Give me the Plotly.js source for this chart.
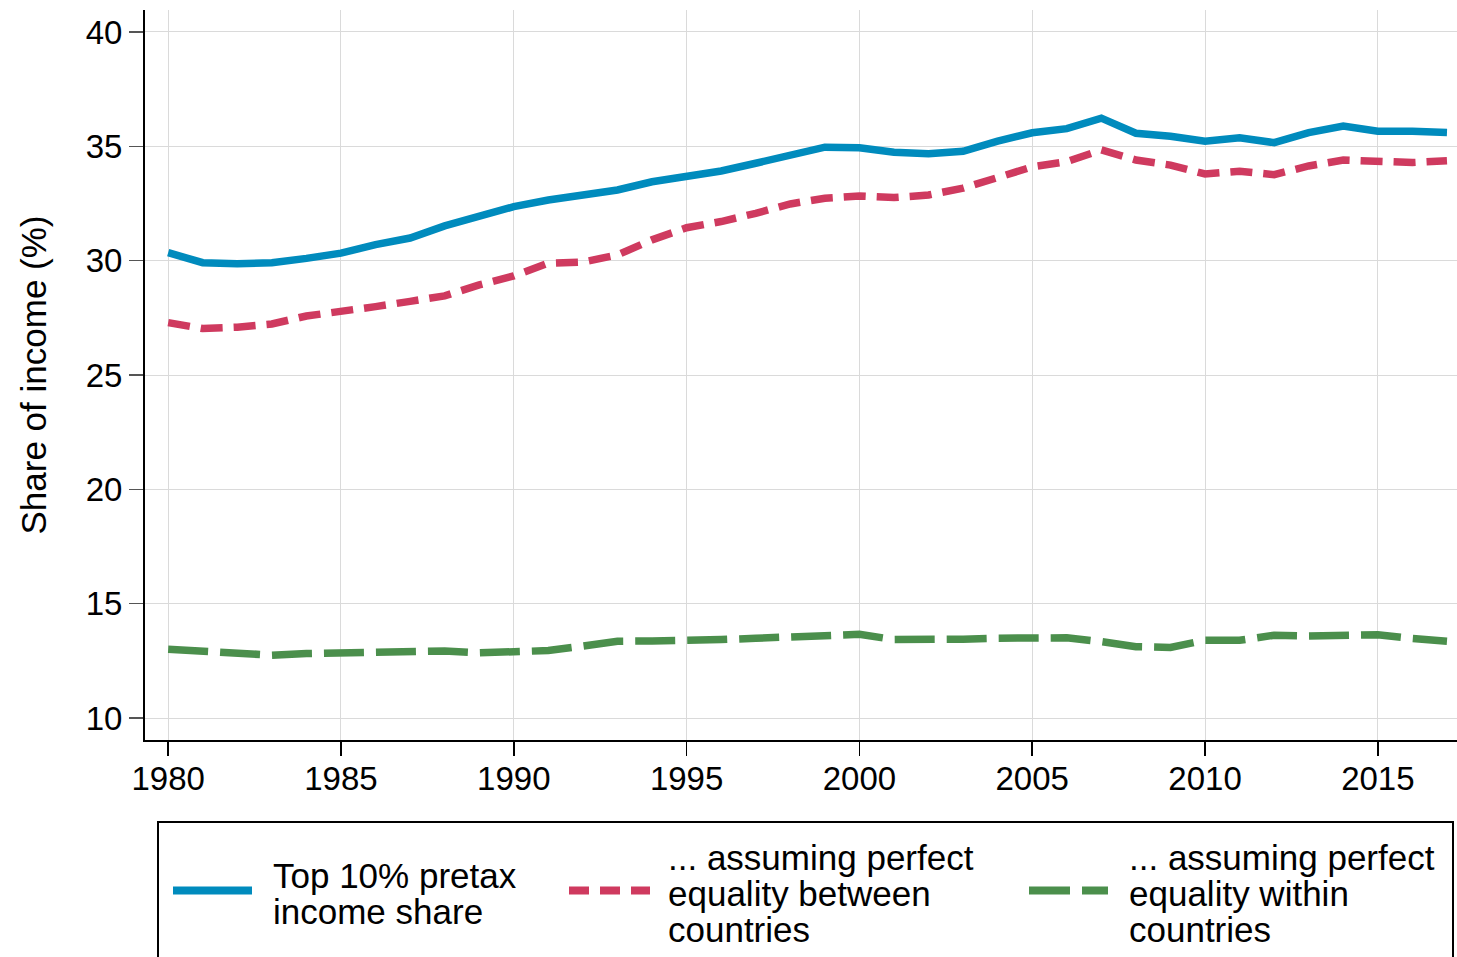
<!DOCTYPE html>
<html>
<head>
<meta charset="utf-8">
<script src="https://cdn.plot.ly/plotly-3.0.1.min.js"></script>
<style>html,body{margin:0;padding:0;background:#fff;}#chart{width:1457px;height:957px;}</style>
</head>
<body>
<div id="chart"></div>
<script>
var years = [1980,1981,1982,1983,1984,1985,1986,1987,1988,1989,1990,1991,1992,1993,1994,1995,1996,1997,1998,1999,2000,2001,2002,2003,2004,2005,2006,2007,2008,2009,2010,2011,2012,2013,2014,2015,2016,2017];
var top10Share = [30.35,29.91,29.86,29.91,30.10,30.33,30.70,30.99,31.52,31.90,32.36,32.65,32.89,33.09,33.45,33.70,33.92,34.26,34.62,34.96,34.94,34.74,34.67,34.78,35.23,35.59,35.77,36.23,35.57,35.44,35.22,35.37,35.16,35.60,35.89,35.66,35.66,35.60];
var equalBetween = [27.29,27.03,27.09,27.23,27.58,27.76,27.99,28.22,28.46,28.94,29.33,29.89,29.94,30.25,30.91,31.44,31.71,32.07,32.48,32.73,32.83,32.76,32.87,33.17,33.65,34.10,34.33,34.84,34.40,34.18,33.79,33.91,33.76,34.14,34.40,34.37,34.29,34.37];
var equalWithin = [13.01,12.91,12.84,12.75,12.82,12.86,12.82,12.88,12.93,12.85,12.88,12.95,13.15,13.36,13.37,13.36,13.43,13.49,13.53,13.56,13.66,13.43,13.40,13.45,13.49,13.53,13.51,13.34,13.12,13.09,13.40,13.40,13.62,13.59,13.64,13.64,13.48,13.36];
var seriesLabels = [
  ["Top 10% pretax", "income share"],
  ["... assuming perfect", "equality between", "countries"],
  ["... assuming perfect", "equality within", "countries"]
];
var xTicks = [1980,1985,1990,1995,2000,2005,2010,2015];
var yTicks = [10,15,20,25,30,35,40];

var FONT = "Liberation Sans, Arimo, Helvetica, Arial, sans-serif";
var COLORS = ['#008bbd', '#cf3a5f', '#4b8f4c'];
var DASHES = ['solid', '22px,11px', '40px,12px'];
var LEGEND_DASHES = ['solid', '20px,11px', '41px,12px'];

// plot-area geometry (pixels) used to place the hand-built legend
var M = {l: 145, r: 0, t: 10, b: 217};
var PW = 1457 - M.l - M.r, PH = 957 - M.t - M.b;
function px2x(px) { return (px - M.l) / PW; }
function px2y(py) { return (957 - M.b - py) / PH; }

var traces = [top10Share, equalBetween, equalWithin].map(function (vals, i) {
  return {x: years, y: vals, name: seriesLabels[i].join(' '), mode: 'lines',
          line: {color: COLORS[i], width: 7.5, dash: DASHES[i]}, showlegend: false};
});

// legend layout: swatch start/end, text x, line centres
var legendItems = [
  {x0: 173, x1: 252, tx: 271, lines: [875, 911]},
  {x0: 569, x1: 650, tx: 666, lines: [857, 893.5, 929.5]},
  {x0: 1029, x1: 1108, tx: 1127, lines: [857, 893.5, 929.5]}
];
var shapes = [{type: 'rect', xref: 'paper', yref: 'paper', x0: px2x(158), x1: px2x(1453), y0: px2y(822), y1: px2y(970),
               line: {color: '#000', width: 2}, fillcolor: 'rgba(0,0,0,0)'}];
var annotations = [];
legendItems.forEach(function (it, i) {
  shapes.push({type: 'line', xref: 'paper', yref: 'paper', x0: px2x(it.x0), x1: px2x(it.x1), y0: px2y(890.5), y1: px2y(890.5),
               line: {color: COLORS[i], width: 8, dash: LEGEND_DASHES[i]}});
  seriesLabels[i].forEach(function (txt, j) {
    annotations.push({xref: 'paper', yref: 'paper', x: px2x(it.tx), y: px2y(it.lines[j]), xanchor: 'left', yanchor: 'middle',
                      text: txt, showarrow: false, font: {family: FONT, size: 35, color: '#000'}});
  });
});

var layout = {
  width: 1457, height: 957,
  margin: {l: M.l, r: M.r, t: M.t, b: M.b, autoexpand: false},
  paper_bgcolor: '#fff', plot_bgcolor: '#fff',
  font: {family: FONT, size: 33, color: '#000'},
  showlegend: false,
  xaxis: {
    range: [1979.33, 2017.29], tickvals: xTicks, ticktext: xTicks.map(String),
    showgrid: true, gridcolor: '#dadada', gridwidth: 1, zeroline: false,
    showline: true, linecolor: '#000', linewidth: 2,
    ticks: 'outside', ticklen: 14, tickwidth: 1.5, tickcolor: '#000', ticklabelstandoff: -6,
    tickfont: {family: FONT, size: 33, color: '#000'}
  },
  yaxis: {
    range: [9.04, 40.96], tickvals: yTicks, ticktext: yTicks.map(String),
    showgrid: true, gridcolor: '#dadada', gridwidth: 1, zeroline: false,
    showline: true, linecolor: '#000', linewidth: 2,
    ticks: 'outside', ticklen: 14, tickwidth: 1.5, tickcolor: '#555', ticklabelstandoff: 0,
    tickfont: {family: FONT, size: 33, color: '#000'},
    title: {text: 'Share of income (%)', font: {family: FONT, size: 35, color: '#000'}, standoff: 28}
  },
  shapes: shapes,
  annotations: annotations
};
Plotly.newPlot('chart', traces, layout, {displayModeBar: false, staticPlot: true});
</script>
</body>
</html>
